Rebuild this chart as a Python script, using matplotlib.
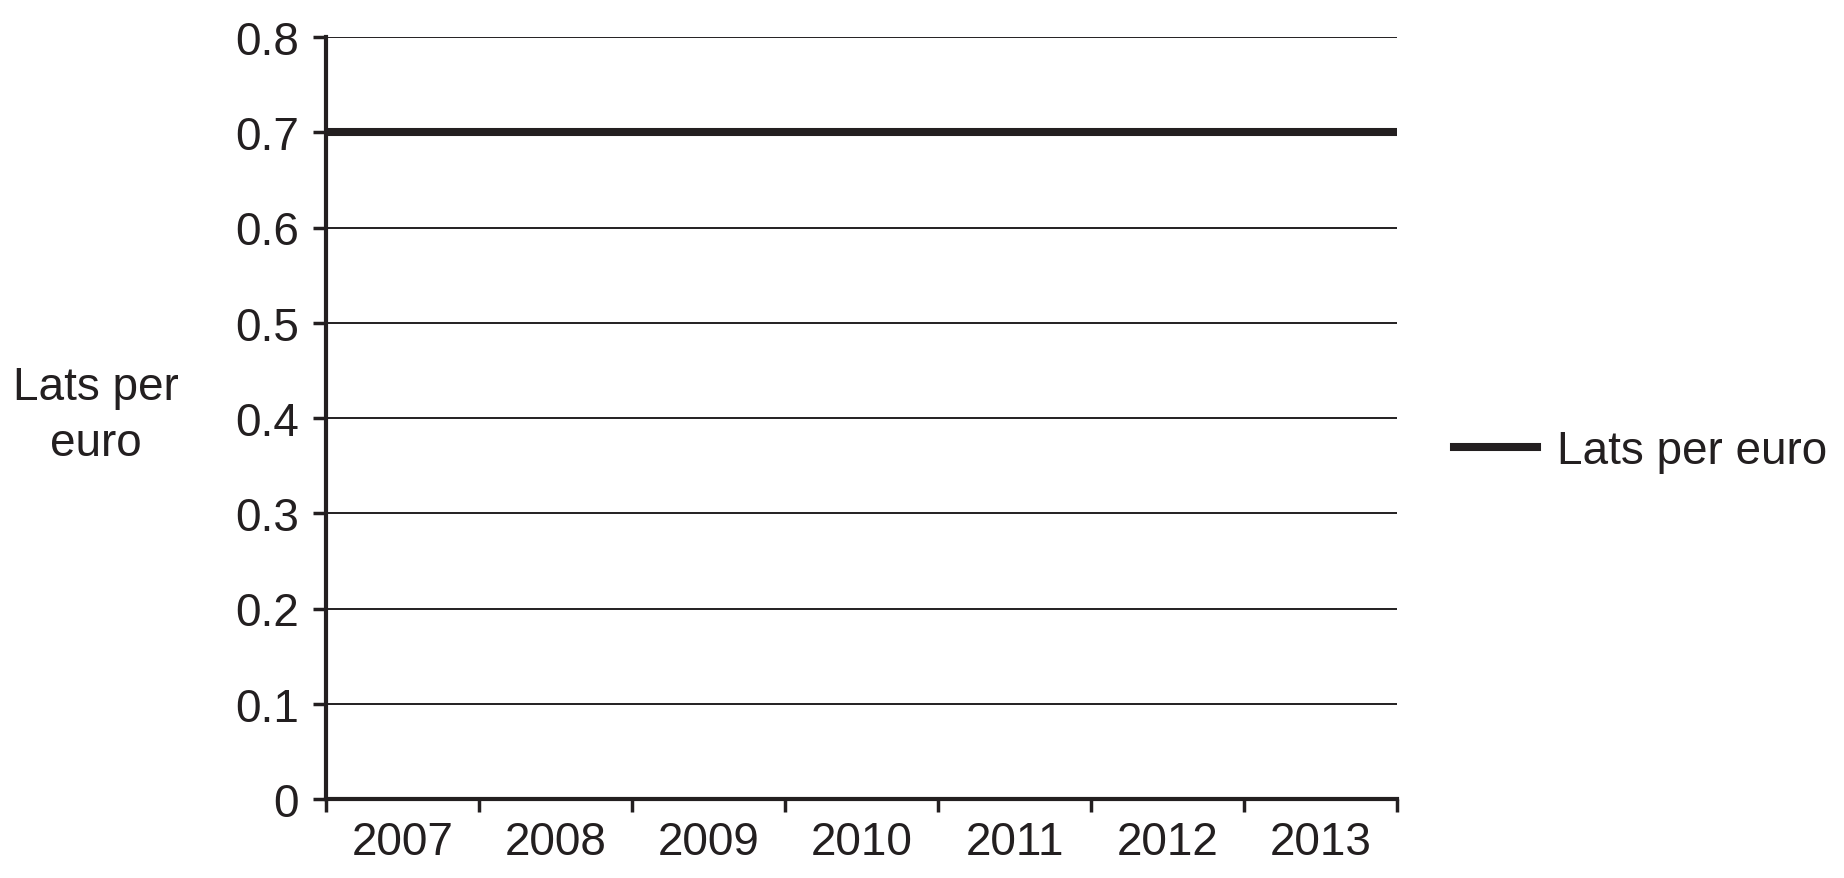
import numpy as np
import matplotlib
matplotlib.use("Agg")
import matplotlib.pyplot as plt

# data
years = ["2007", "2008", "2009", "2010", "2011", "2012", "2013"]
lats_per_euro = [0.7, 0.7, 0.7, 0.7, 0.7, 0.7, 0.7]
y_ticks = [0, 0.1, 0.2, 0.3, 0.4, 0.5, 0.6, 0.7, 0.8]
y_tick_labels = ["0", "0.1", "0.2", "0.3", "0.4", "0.5", "0.6", "0.7", "0.8"]

ink = "#231f20"
plt.rcParams["font.family"] = ["Liberation Sans", "DejaVu Sans"]

fig = plt.figure(figsize=(18.44, 8.79), dpi=100)
ax = fig.add_axes([326/1844, 1-800/879, (1397-326)/1844, (800-38)/879])

edges = np.arange(len(years) + 1)
ax.stairs(lats_per_euro, edges, baseline=None, color=ink, linewidth=5.8,
          label="Lats per euro", zorder=3)

ax.set_xlim(0, len(years))
ax.set_ylim(0, 0.8)
ax.set_yticks(y_ticks)
ax.set_yticklabels(y_tick_labels)
ax.yaxis.grid(True, color=ink, linewidth=1.4)
ax.set_axisbelow(True)

ax.set_xticks(edges)
ax.set_xticklabels([])
ax.set_xticks(edges[:-1] + 0.5, minor=True)
ax.set_xticklabels(years, minor=True)

for s in ["top", "right"]:
    ax.spines[s].set_visible(False)
for s in ["left", "bottom"]:
    ax.spines[s].set_color(ink)
    ax.spines[s].set_linewidth(3)

ax.tick_params(axis="both", which="major", direction="out", length=9.5,
               width=2.5, color=ink, labelsize=33, labelcolor=ink)
ax.tick_params(axis="y", pad=10)
ax.tick_params(axis="x", which="minor", length=0, pad=15, labelsize=33,
               labelcolor=ink)

fig.text(96/1844, 1-416/879, "Lats per\neuro", ha="center", va="center",
         multialignment="center", fontsize=33, color=ink, linespacing=1.35)

leg = ax.legend(loc="center left", bbox_to_anchor=(1454/1844, 1-452/879),
                bbox_transform=fig.transFigure, frameon=False, borderpad=0,
                borderaxespad=0, handlelength=1.8, handletextpad=0.45,
                fontsize=33)
for t in leg.get_texts():
    t.set_color(ink)

fig.savefig("out.png", dpi=100, facecolor="white")
